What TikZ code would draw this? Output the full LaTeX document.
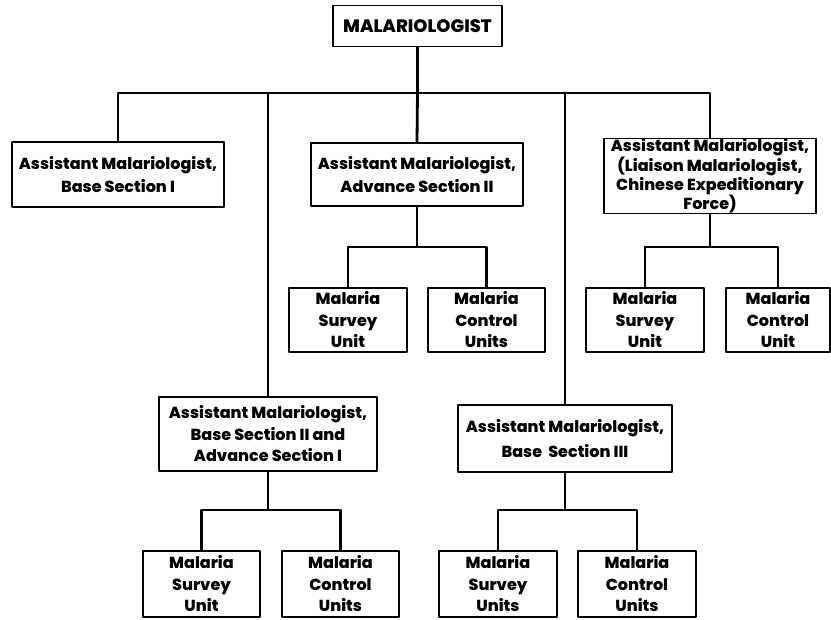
\documentclass[tikz,border=0pt]{standalone}
\usepackage{fontspec}
\setmainfont{Poppins}[BoldFont={Poppins ExtraBold}]
\usepackage{tikz}
\usetikzlibrary{calc}

\begin{document}
\begin{tikzpicture}[join=round,x=1pt,y=1pt]
		\tikzstyle{box}=[draw, line width=1.6pt, align=center, inner sep=1pt, font=\bfseries\fontsize{16}{21.5}\selectfont]
		\tikzstyle{link}=[line width=2.8pt]
		\useasboundingbox (0,0) rectangle (831,-620);
		
		\node[box, minimum width=169pt, minimum height=41pt, font=\bfseries\fontsize{18}{20}\selectfont] (mal) at (417.5, -26) {MALARIOLOGIST};
		
		\node[box, minimum width=212pt, minimum height=65pt, font=\bfseries\fontsize{16}{23.5}\selectfont] (bs1) at (118, -174.5) {Assistant Malariologist,\\Base Section I};
		\node[box, minimum width=212pt, minimum height=63pt, font=\bfseries\fontsize{16}{23.5}\selectfont] (as2) at (417, -174.5) {Assistant Malariologist,\\Advance Section II};
		\node[box, minimum width=212pt, minimum height=68pt, inner sep=0pt, font=\bfseries\fontsize{16}{16.5}\selectfont] (liaison) at (710, -176) {Assistant Malariologist,\\(Liaison Malariologist,\\Chinese Expeditionary\\Force)};
		\node[box, minimum width=218pt, minimum height=74pt] (bs2) at (268, -434) {Assistant Malariologist,\\Base Section II and\\Advance Section I};
		\node[box, minimum width=214pt, minimum height=67pt, font=\bfseries\fontsize{16}{25}\selectfont] (bs3) at (565, -438.5) {Assistant Malariologist,\\Base~ Section III};
		
		% units
		\node[box, minimum width=118pt, minimum height=64pt] (as2s) at (348, -320) {Malaria\\Survey\\Unit};
		\node[box, minimum width=117pt, minimum height=64pt] (as2c) at (486.5, -320) {Malaria\\Control\\Units};
		\node[box, minimum width=118pt, minimum height=64pt] (lias) at (645, -320) {Malaria\\Survey\\Unit};
		\node[box, minimum width=104pt, minimum height=64pt] (liac) at (778, -320) {Malaria\\Control\\Unit};
		\node[box, minimum width=117pt, minimum height=66pt] (bs2s) at (201.5, -584) {Malaria\\Survey\\Unit};
		\node[box, minimum width=117pt, minimum height=66pt] (bs2c) at (340.5, -584) {Malaria\\Control\\Units};
		\node[box, minimum width=118pt, minimum height=66pt] (bs3s) at (498, -584) {Malaria\\Survey\\Units};
		\node[box, minimum width=118pt, minimum height=66pt] (bs3c) at (637, -584) {Malaria\\Control\\Units};
		
		\coordinate (hub) at (mal.south |- 0,-93);
		\coordinate (as2hub) at (as2.south |- 0,-247);
		\coordinate (liahub) at (liaison.south |- 0,-247);
		\coordinate (bs2hub) at (bs2.south |- 0,-510);
		\coordinate (bs3hub) at (bs3.south |- 0,-510);
		
		\draw[link] (mal) -- (hub);
		\draw[link] (hub) -| (bs1.north);
		\draw[link] (hub) -| (bs2.north);
		\draw[link] (hub) -- (as2.north);
		\draw[link] (hub) -| (bs3.north);
		\draw[link] (hub) -| (liaison.north);
		
		\draw[link] (as2) -- (as2hub);
		\draw[link] (as2hub) -| (as2s.north);
		\draw[link] (as2hub) -| (as2c.north);
		\draw[link] (liaison) -- (liahub);
		\draw[link] (liahub) -| (lias.north);
		\draw[link] (liahub) -| (liac.north);
		\draw[link] (bs2) -- (bs2hub);
		\draw[link] (bs2hub) -| (bs2s.north);
		\draw[link] (bs2hub) -| (bs2c.north);
		\draw[link] (bs3) -- (bs3hub);
		\draw[link] (bs3hub) -| (bs3s.north);
		\draw[link] (bs3hub) -| (bs3c.north);
	\end{tikzpicture}
\end{document}
